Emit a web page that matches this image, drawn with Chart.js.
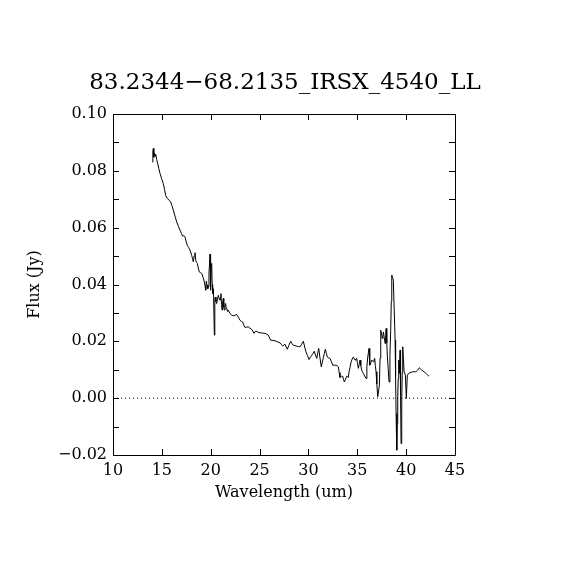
<!DOCTYPE html>
<html>
<head>
<meta charset="utf-8">
<title>83.2344-68.2135_IRSX_4540_LL</title>
<script src="https://cdn.jsdelivr.net/npm/chart.js@4/dist/chart.umd.min.js"></script>
<style>
  html, body { margin: 0; padding: 0; background: #fff; }
  #wrap { width: 570px; height: 570px; }
</style>
</head>
<body>
<div id="wrap"><canvas id="spectrum" width="570" height="570"></canvas></div>
<script>
// spectrum: wavelength (um) and flux (Jy)
const wavelength = [
  14.02, 14.08, 14.13, 14.18, 14.23, 14.30, 14.37, 14.47, 14.57, 14.69, 14.81, 14.98, 15.15, 15.27, 15.39, 15.47,
  15.56, 15.73, 15.90, 16.03, 16.17, 16.35, 16.52, 16.69, 16.86, 17.00, 17.13, 17.25, 17.37, 17.48, 17.60, 17.74,
  17.88, 18.05, 18.13, 18.22, 18.30, 18.39, 18.47, 18.55, 18.63, 18.73, 18.83, 18.95, 19.08, 19.22, 19.35, 19.42,
  19.49, 19.55, 19.62, 19.70, 19.76, 19.82, 19.86, 19.93, 19.97, 20.00, 20.05, 20.10, 20.15, 20.20, 20.28, 20.37,
  20.42, 20.47, 20.54, 20.61, 20.70, 20.78, 20.87, 20.95, 21.00, 21.05, 21.10, 21.16, 21.22, 21.29, 21.34, 21.39,
  21.46, 21.53, 21.58, 21.64, 21.72, 21.80, 21.97, 22.15, 22.32, 22.49, 22.66, 22.83, 23.00, 23.14, 23.27, 23.38,
  23.50, 23.68, 23.85, 24.02, 24.20, 24.32, 24.43, 24.54, 24.64, 24.85, 25.05, 25.30, 25.56, 25.73, 25.90, 26.02,
  26.14, 26.36, 26.58, 26.84, 27.09, 27.23, 27.37, 27.48, 27.60, 27.72, 27.84, 28.00, 28.19, 28.32, 28.45, 28.62,
  28.80, 28.97, 29.14, 29.31, 29.48, 29.62, 29.75, 29.90, 30.06, 30.20, 30.34, 30.47, 30.60, 30.72, 30.85, 30.95,
  31.05, 31.18, 31.32, 31.42, 31.53, 31.63, 31.73, 31.83, 31.93, 32.07, 32.21, 32.35, 32.49, 32.66, 32.83, 32.95,
  33.06, 33.15, 33.23, 33.37, 33.51, 33.60, 33.68, 33.80, 33.92, 34.00, 34.08, 34.17, 34.26, 34.37, 34.48, 34.60,
  34.68, 34.77, 34.85, 34.94, 35.02, 35.11, 35.20, 35.28, 35.36, 35.45, 35.53, 35.62, 35.76, 35.90, 35.98, 36.07,
  36.14, 36.20, 36.25, 36.30, 36.39, 36.48, 36.56, 36.64, 36.71, 36.78, 36.85, 36.92, 37.00, 37.09, 37.18, 37.26,
  37.33, 37.40, 37.48, 37.56, 37.62, 37.67, 37.76, 37.85, 37.90, 37.95, 38.02, 38.08, 38.17, 38.25, 38.34, 38.42,
  38.48, 38.53, 38.61, 38.69, 38.78, 38.87, 38.92, 38.97, 39.04, 39.09, 39.14, 39.19, 39.24, 39.30, 39.38, 39.43,
  39.48, 39.55, 39.60, 39.65, 39.72, 39.79, 39.92, 40.02, 40.12, 40.22, 40.33, 40.50, 40.67, 40.84, 41.00, 41.18,
  41.35, 41.47, 41.59, 41.71, 41.83, 41.97, 42.10, 42.22, 42.34
];
const flux = [
  0.0831, 0.0870, 0.0879, 0.0848, 0.0862, 0.0852, 0.0858, 0.0840, 0.0826, 0.0808, 0.0791, 0.0772, 0.0755, 0.0735, 0.0714, 0.0708,
  0.0703, 0.0697, 0.0691, 0.0678, 0.0662, 0.0640, 0.0620, 0.0605, 0.0591, 0.0580, 0.0570, 0.0572, 0.0568, 0.0552, 0.0538, 0.0530,
  0.0521, 0.0503, 0.0492, 0.0480, 0.0500, 0.0512, 0.0485, 0.0478, 0.0474, 0.0458, 0.0444, 0.0442, 0.0439, 0.0425, 0.0409, 0.0395,
  0.0380, 0.0412, 0.0398, 0.0385, 0.0392, 0.0440, 0.0462, 0.0507, 0.0420, 0.0380, 0.0470, 0.0474, 0.0400, 0.0368, 0.0385, 0.0222,
  0.0345, 0.0356, 0.0340, 0.0333, 0.0350, 0.0362, 0.0350, 0.0345, 0.0355, 0.0368, 0.0330, 0.0310, 0.0340, 0.0351, 0.0320, 0.0310,
  0.0325, 0.0333, 0.0315, 0.0316, 0.0305, 0.0310, 0.0298, 0.0292, 0.0290, 0.0292, 0.0294, 0.0285, 0.0274, 0.0270, 0.0268, 0.0258,
  0.0249, 0.0250, 0.0251, 0.0246, 0.0242, 0.0236, 0.0228, 0.0234, 0.0236, 0.0232, 0.0230, 0.0229, 0.0228, 0.0225, 0.0222, 0.0212,
  0.0204, 0.0203, 0.0202, 0.0198, 0.0195, 0.0189, 0.0183, 0.0187, 0.0190, 0.0180, 0.0172, 0.0186, 0.0200, 0.0192, 0.0186, 0.0185,
  0.0183, 0.0182, 0.0181, 0.0190, 0.0200, 0.0180, 0.0163, 0.0150, 0.0136, 0.0144, 0.0151, 0.0158, 0.0165, 0.0152, 0.0140, 0.0158,
  0.0175, 0.0142, 0.0110, 0.0127, 0.0143, 0.0158, 0.0172, 0.0158, 0.0145, 0.0142, 0.0140, 0.0128, 0.0116, 0.0116, 0.0116, 0.0113,
  0.0110, 0.0090, 0.0073, 0.0077, 0.0077, 0.0065, 0.0057, 0.0067, 0.0077, 0.0076, 0.0073, 0.0095, 0.0108, 0.0128, 0.0138, 0.0145,
  0.0140, 0.0134, 0.0138, 0.0140, 0.0122, 0.0105, 0.0120, 0.0134, 0.0115, 0.0099, 0.0093, 0.0087, 0.0078, 0.0069, 0.0110, 0.0145,
  0.0160, 0.0175, 0.0145, 0.0116, 0.0125, 0.0134, 0.0131, 0.0128, 0.0134, 0.0140, 0.0115, 0.0093, 0.0050, 0.0005, 0.0025, 0.0046,
  0.0140, 0.0239, 0.0225, 0.0210, 0.0220, 0.0233, 0.0212, 0.0192, 0.0220, 0.0245, 0.0195, 0.0145, 0.0100, 0.0057, 0.0150, 0.0239,
  0.0340, 0.0433, 0.0425, 0.0415, 0.0310, 0.0204, 0.0075, -0.0054, -0.0183, -0.0090, 0.0005, 0.0070, 0.0134, 0.0087, 0.0169, 0.0010,
  -0.0160, -0.0007, 0.0090, 0.0181, 0.0137, 0.0093, 0.0081, -0.0001, 0.0081, 0.0085, 0.0089, 0.0091, 0.0093, 0.0093, 0.0093, 0.0099,
  0.0107, 0.0103, 0.0099, 0.0096, 0.0093, 0.0089, 0.0085, 0.0081, 0.0077
];

// axis ranges and ticks
const xRange = [10, 45];
const xStep = 5;
const yRange = [-0.02, 0.10];
const yStep = 0.01;
const zeroLevel = [0, 0];

const titleText = '83.2344\u221268.2135_IRSX_4540_LL';
const serif = "'DejaVu Serif', 'Liberation Serif', serif";

// PGPLOT-style frame with inward ticks on all four sides
const frameTicks = {
  id: 'frameTicks',
  afterDraw(chart) {
    const { ctx, chartArea: a, scales } = chart;
    const len = 6;
    ctx.save();
    ctx.strokeStyle = '#000';
    ctx.lineWidth = 1;
    ctx.beginPath();
    ctx.rect(a.left + 0.5, a.top + 0.5, a.right - a.left, a.bottom - a.top);
    scales.x.ticks.forEach(t => {
      const px = Math.round(scales.x.getPixelForValue(t.value)) + 0.5;
      ctx.moveTo(px, a.bottom); ctx.lineTo(px, a.bottom - len);
      ctx.moveTo(px, a.top); ctx.lineTo(px, a.top + len);
    });
    scales.y.ticks.forEach(t => {
      const py = Math.round(scales.y.getPixelForValue(t.value)) + 0.5;
      ctx.moveTo(a.left, py); ctx.lineTo(a.left + len, py);
      ctx.moveTo(a.right, py); ctx.lineTo(a.right - len, py);
    });
    ctx.stroke();
    ctx.restore();
  }
};

const ctx = document.getElementById('spectrum');
new Chart(ctx, {
  type: 'line',
  data: {
    datasets: [{
      data: wavelength.map((w, i) => ({ x: w, y: flux[i] })),
      borderColor: '#000',
      borderWidth: 1,
      pointRadius: 0,
      tension: 0
    }, {
      data: xRange.map((w, i) => ({ x: w, y: zeroLevel[i] })),
      borderColor: '#000',
      borderWidth: 1,
      borderDash: [1, 3],
      pointRadius: 0
    }]
  },
  options: {
    responsive: false,
    animation: false,
    devicePixelRatio: 1,
    layout: { padding: 0 },
    plugins: {
      legend: { display: false },
      tooltip: { enabled: false },
      title: {
        display: true,
        text: titleText,
        color: '#000',
        font: { family: serif, size: 23, weight: 'normal', lineHeight: 1 },
        padding: { top: 72, bottom: 19 }
      }
    },
    scales: {
      x: {
        type: 'linear',
        min: xRange[0],
        max: xRange[1],
        afterFit: s => { s.height = 115; },
        grid: { display: false, drawTicks: false },
        border: { display: false },
        ticks: {
          stepSize: xStep,
          color: '#000',
          padding: 6,
          maxRotation: 0,
          font: { family: serif, size: 16 }
        },
        title: {
          display: true,
          text: 'Wavelength (um)',
          color: '#000',
          font: { family: serif, size: 16 },
          padding: 68
        }
      },
      y: {
        min: yRange[0],
        max: yRange[1],
        afterFit: s => { s.width = 113; },
        grid: { display: false, drawTicks: false },
        border: { display: false },
        ticks: {
          stepSize: yStep,
          color: '#000',
          padding: 6,
          font: { family: serif, size: 16 },
          callback: v => {
            const k = Math.round(v * 100);
            if (k % 2 !== 0) return '';
            return (k / 100).toFixed(2).replace('-', '\u2212');
          }
        },
        title: {
          display: true,
          text: 'Flux (Jy)',
          color: '#000',
          font: { family: serif, size: 16 },
          padding: 25
        }
      },
      // empty right-hand axis, only reserves the blank margin so the title stays centred on the page
      yRight: {
        position: 'right',
        min: yRange[0],
        max: yRange[1],
        afterFit: s => { s.width = 115; },
        grid: { display: false, drawTicks: false },
        border: { display: false },
        ticks: { display: false }
      }
    }
  },
  plugins: [frameTicks]
});
</script>
</body>
</html>
